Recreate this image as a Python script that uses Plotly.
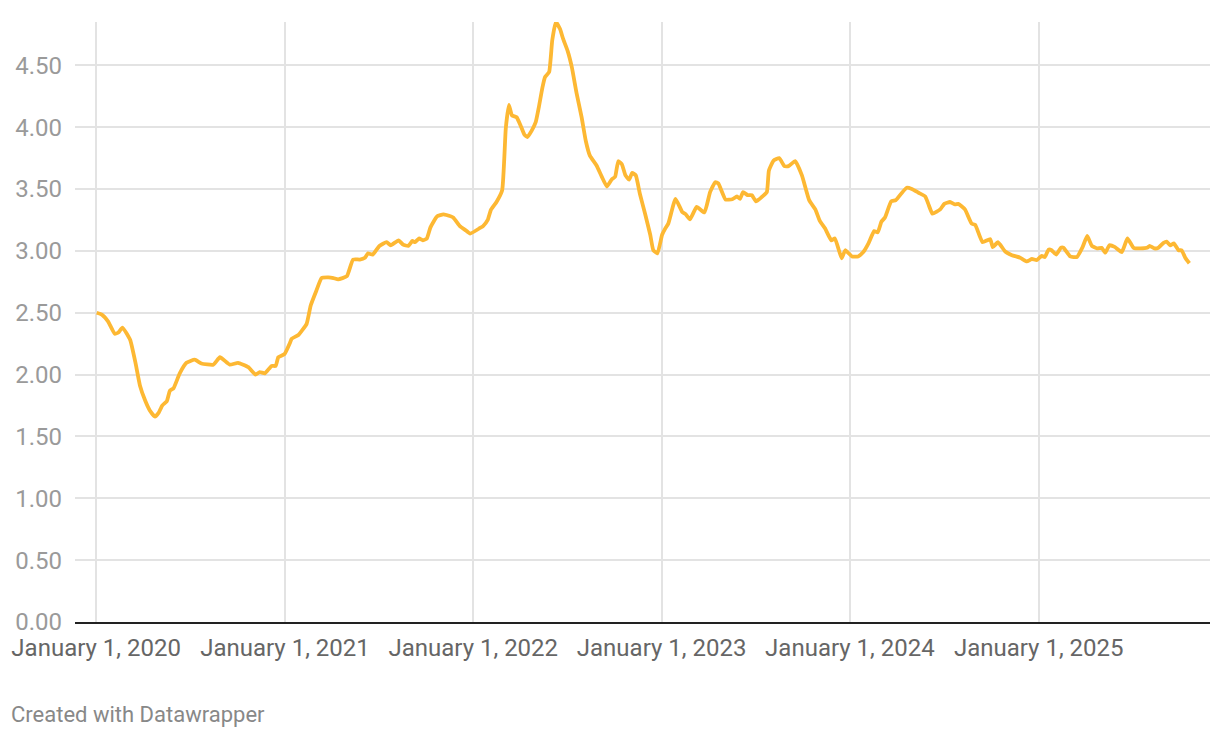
import plotly.graph_objects as go

dates = [
    "2020-01-02", "2020-01-12", "2020-01-24", "2020-02-06", "2020-02-13", "2020-02-21", "2020-03-07",
    "2020-03-17", "2020-03-26", "2020-04-05", "2020-04-14", "2020-04-24", "2020-05-01", "2020-05-08",
    "2020-05-17", "2020-05-23", "2020-05-30", "2020-06-11", "2020-06-24", "2020-07-10", "2020-07-23",
    "2020-08-15", "2020-08-28", "2020-09-16", "2020-10-02", "2020-10-22", "2020-11-05", "2020-11-13",
    "2020-11-23", "2020-12-06", "2020-12-14", "2020-12-19", "2020-12-31",
    "2021-01-11", "2021-01-14", "2021-01-27", "2021-02-12", "2021-02-20", "2021-03-03", "2021-03-13",
    "2021-03-26", "2021-04-05", "2021-04-14", "2021-05-01", "2021-05-13", "2021-05-26", "2021-06-05",
    "2021-06-11", "2021-06-20", "2021-07-03", "2021-07-17", "2021-07-25", "2021-08-09", "2021-08-18",
    "2021-08-28", "2021-09-05", "2021-09-10", "2021-09-18", "2021-09-25", "2021-10-03", "2021-10-10",
    "2021-10-23", "2021-11-04", "2021-11-10", "2021-11-23", "2021-12-06", "2021-12-16", "2021-12-26",
    "2022-01-14", "2022-01-20", "2022-01-29", "2022-02-04", "2022-02-15", "2022-02-26", "2022-03-05",
    "2022-03-11", "2022-03-17", "2022-03-26", "2022-04-03", "2022-04-10", "2022-04-16", "2022-04-24",
    "2022-05-02", "2022-05-08", "2022-05-15", "2022-05-20", "2022-05-28", "2022-06-03", "2022-06-10",
    "2022-06-18", "2022-06-24", "2022-07-03", "2022-07-11", "2022-07-20", "2022-07-30", "2022-08-07",
    "2022-08-15", "2022-08-28", "2022-09-07", "2022-09-17", "2022-09-26", "2022-10-03", "2022-10-09",
    "2022-10-16", "2022-10-23", "2022-10-30", "2022-11-05", "2022-11-12", "2022-11-20", "2022-11-30",
    "2022-12-10", "2022-12-16", "2022-12-24",
    "2023-01-02", "2023-01-08", "2023-01-14", "2023-01-28", "2023-02-10", "2023-02-17", "2023-02-25",
    "2023-03-10", "2023-03-25", "2023-04-05", "2023-04-15", "2023-04-21", "2023-05-05", "2023-05-18",
    "2023-05-27", "2023-06-02", "2023-06-08", "2023-06-17", "2023-06-25", "2023-07-03", "2023-07-14",
    "2023-07-24", "2023-07-28", "2023-08-06", "2023-08-17", "2023-08-27", "2023-09-04", "2023-09-17",
    "2023-09-30", "2023-10-14", "2023-10-26", "2023-11-04", "2023-11-14", "2023-11-26", "2023-12-03",
    "2023-12-16", "2023-12-23",
    "2024-01-05", "2024-01-17", "2024-01-27", "2024-02-06", "2024-02-17", "2024-02-24", "2024-03-02",
    "2024-03-09", "2024-03-21", "2024-03-30", "2024-04-11", "2024-04-20", "2024-04-30", "2024-05-13",
    "2024-05-26", "2024-06-01", "2024-06-09", "2024-06-24", "2024-07-02", "2024-07-13", "2024-07-23",
    "2024-07-29", "2024-08-11", "2024-08-24", "2024-08-31", "2024-09-14", "2024-09-29", "2024-10-04",
    "2024-10-14", "2024-10-28", "2024-11-10", "2024-11-26", "2024-12-09", "2024-12-19", "2024-12-28",
    "2025-01-07", "2025-01-13", "2025-01-20", "2025-01-26", "2025-02-04", "2025-02-13", "2025-02-18",
    "2025-03-03", "2025-03-16", "2025-03-27", "2025-04-05", "2025-04-14", "2025-04-24", "2025-05-03",
    "2025-05-10", "2025-05-18", "2025-05-29", "2025-06-11", "2025-06-22", "2025-07-04", "2025-07-17",
    "2025-07-30", "2025-08-04", "2025-08-13", "2025-08-21", "2025-08-31", "2025-09-06", "2025-09-13",
    "2025-09-20", "2025-09-29", "2025-10-05", "2025-10-12", "2025-10-20",
]

prices = [
    2.50, 2.485, 2.43, 2.33, 2.34, 2.38, 2.28,
    2.10, 1.91, 1.79, 1.71, 1.66, 1.69, 1.75,
    1.785, 1.87, 1.89, 2.01, 2.095, 2.12, 2.09,
    2.08, 2.14, 2.08, 2.095, 2.06, 2.00, 2.02,
    2.01, 2.07, 2.07, 2.14, 2.165,
    2.26, 2.29, 2.32, 2.41, 2.56, 2.68, 2.78,
    2.785, 2.78, 2.77, 2.795, 2.93, 2.93, 2.945,
    2.98, 2.97, 3.04, 3.07, 3.045, 3.085, 3.05,
    3.04, 3.08, 3.07, 3.10, 3.085, 3.10, 3.19,
    3.28, 3.295, 3.29, 3.27, 3.20, 3.17, 3.14,
    3.185, 3.20, 3.25, 3.33, 3.395, 3.49, 3.99,
    4.18, 4.095, 4.08, 4.01, 3.94, 3.92, 3.97,
    4.04, 4.16, 4.32, 4.405, 4.445, 4.70, 4.85,
    4.795, 4.715, 4.615, 4.485, 4.28, 4.08, 3.89,
    3.77, 3.69, 3.60, 3.52, 3.575, 3.60, 3.725,
    3.70, 3.61, 3.575, 3.63, 3.61, 3.46, 3.30,
    3.13, 3.005, 2.98,
    3.13, 3.18, 3.22, 3.42, 3.315, 3.295, 3.255,
    3.355, 3.31, 3.475, 3.555, 3.545, 3.415, 3.417,
    3.44, 3.42, 3.475, 3.45, 3.45, 3.40, 3.435,
    3.475, 3.65, 3.73, 3.75, 3.685, 3.685, 3.725,
    3.61, 3.41, 3.335, 3.24, 3.18, 3.085, 3.10,
    2.94, 3.005,
    2.955, 2.955, 2.99, 3.06, 3.16, 3.15, 3.235,
    3.27, 3.40, 3.41, 3.47, 3.51, 3.50, 3.47,
    3.44, 3.38, 3.30, 3.335, 3.38, 3.395, 3.375,
    3.38, 3.335, 3.22, 3.21, 3.07, 3.095, 3.03,
    3.07, 2.995, 2.965, 2.945, 2.915, 2.935, 2.925,
    2.96, 2.95, 3.01, 3.005, 2.97, 3.025, 3.025,
    2.955, 2.95, 3.03, 3.12, 3.04, 3.02, 3.025,
    2.985, 3.045, 3.03, 2.99, 3.10, 3.025, 3.02,
    3.025, 3.04, 3.02, 3.025, 3.065, 3.075, 3.045,
    3.06, 3.005, 3.005, 2.945, 2.90,
]

x_ticks = ["2020-01-01", "2021-01-01", "2022-01-01", "2023-01-01", "2024-01-01", "2025-01-01"]
x_tick_labels = ["January 1, 2020", "January 1, 2021", "January 1, 2022",
                 "January 1, 2023", "January 1, 2024", "January 1, 2025"]
y_ticks = [0, 0.5, 1.0, 1.5, 2.0, 2.5, 3.0, 3.5, 4.0, 4.5]
y_tick_labels = ["0.00", "0.50", "1.00", "1.50", "2.00", "2.50", "3.00", "3.50", "4.00", "4.50"]

# page body has an 8px margin: figure drawn at offset (8, 8); keep page within the window
W, H = 1204, 722
L, R, T, B = 67, 2, 14, 108

fig = go.Figure()
fig.add_trace(go.Scatter(
    x=dates, y=prices, mode="lines",
    line=dict(color="#fdb833", width=3.8, shape="spline", smoothing=0.4),
    hoverinfo="x+y", showlegend=False,
))

fig.update_layout(
    width=W, height=H,
    margin=dict(l=L, r=R, t=T, b=B),
    paper_bgcolor="white", plot_bgcolor="white",
    font=dict(family="Roboto, sans-serif"),
    xaxis=dict(
        range=["2019-11-21", "2025-11-29"],
        tickvals=x_ticks, ticktext=x_tick_labels,
        tickfont=dict(size=24, color="#666666"),
        showgrid=True, gridcolor="#e3e3e3", gridwidth=1.5,
        showline=True, linecolor="#222222", linewidth=2,
        ticks="", ticklabelstandoff=3,
        zeroline=False,
    ),
    yaxis=dict(
        range=[0, 4.85],
        tickvals=y_ticks, ticktext=y_tick_labels,
        tickfont=dict(size=24, color="#9a9a9a"),
        showgrid=True, gridcolor="#e3e3e3", gridwidth=1.5,
        zeroline=False, showline=False, ticks="",
        ticklabelstandoff=12,
    ),
    annotations=[dict(
        text="Created with Datawrapper",
        x=(1 - L) / (W - L - R), y=-(706 - (H - B)) / (H - T - B),
        xref="paper", yref="paper",
        showarrow=False, font=dict(size=22, color="#888888"),
        xanchor="left", yanchor="middle",
    )],
)

fig.write_html("out.html")
